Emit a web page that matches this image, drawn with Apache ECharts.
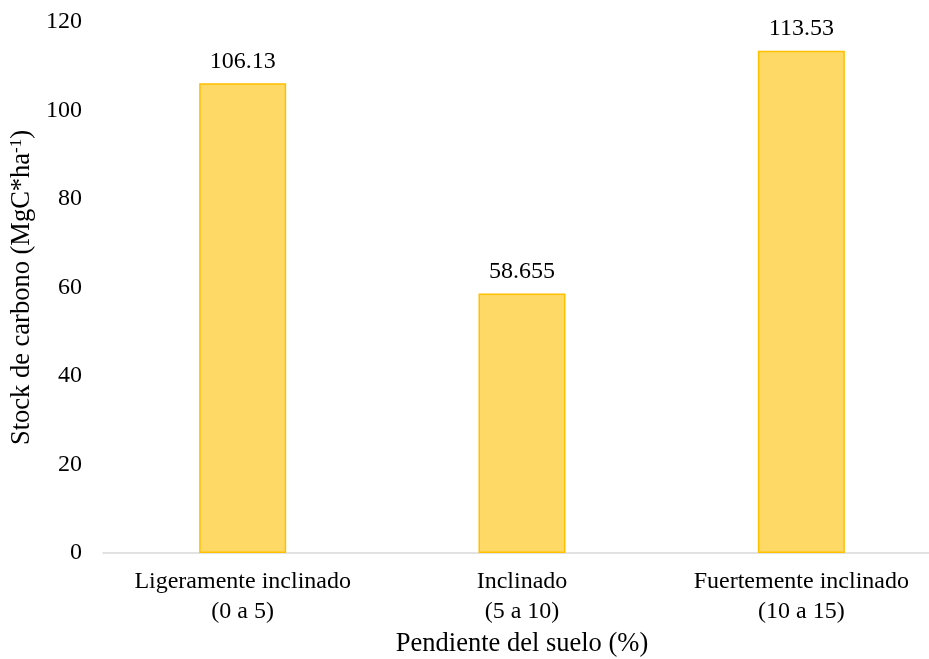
<!DOCTYPE html>
<html>
<head>
    <meta charset="utf-8">
    <title>Stock de carbono</title>
    <script src="https://cdn.jsdelivr.net/npm/echarts@6/dist/echarts.min.js"></script>
</head>
<body style="margin:0">
<div id="main" style="width: 929px;height:659px;"></div>
<script type="text/javascript">
    // values
    var categories = ['Ligeramente inclinado\n(0 a 5)', 'Inclinado\n(5 a 10)', 'Fuertemente inclinado\n(10 a 15)'];
    var stock = [106.13, 58.655, 113.53];
    var yTicks = [0, 20, 40, 60, 80, 100, 120];

    var font = '"Liberation Serif", "Times New Roman", serif';
    var myChart = echarts.init(document.getElementById('main'));

    var option = {
        backgroundColor: '#fff',
        textStyle: { fontFamily: font },
        grid: {
            left: 103,
            top: 22,
            width: 838,
            bottom: 106,
            outerBoundsMode: 'none'
        },
        xAxis: {
            type: 'category',
            data: categories,
            name: 'Pendiente del suelo (%)',
            nameLocation: 'middle',
            nameGap: 75,
            nameTextStyle: { fontFamily: font, fontSize: 26.5, color: '#000' },
            axisLine: { lineStyle: { color: '#d9d9d9', width: 1.5 } },
            axisTick: { show: false },
            axisLabel: {
                interval: 0,
                hideOverlap: false,
                fontFamily: font, fontSize: 24, color: '#000',
                lineHeight: 29.5, margin: 14
            }
        },
        yAxis: {
            type: 'value',
            min: yTicks[0],
            max: yTicks[yTicks.length - 1],
            interval: 20,
            name: 'Stock de carbono (MgC*ha{sup|-1})',
            nameLocation: 'middle',
            nameGap: 65,
            nameRotate: 90,
            nameTextStyle: {
                fontFamily: font, fontSize: 26.5, color: '#000',
                rich: { sup: { fontFamily: font, fontSize: 17, color: '#000', verticalAlign: 'top', padding: [0, 0, 10, 0] } }
            },
            axisLine: { show: false },
            axisTick: { show: false },
            splitLine: { show: false },
            axisLabel: { fontFamily: font, fontSize: 24, color: '#000', margin: 21 }
        },
        series: [{
            type: 'bar',
            data: stock,
            barWidth: 87,
            itemStyle: { color: '#fed966', borderColor: '#ffc000', borderWidth: 1.5 },
            label: {
                show: true,
                position: 'top',
                distance: 10,
                fontFamily: font,
                fontSize: 24,
                color: '#000'
            }
        }],
        animation: false
    };

    myChart.setOption(option);
</script>
</body>
</html>
